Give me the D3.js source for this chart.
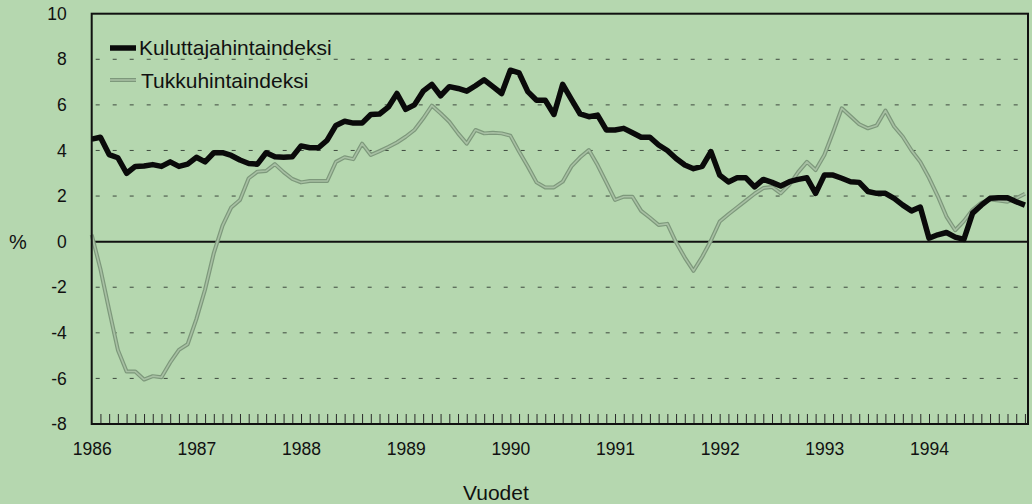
<!DOCTYPE html>
<html>
<head>
<meta charset="utf-8">
<script src="https://cdn.jsdelivr.net/npm/d3@7"></script>
<style>
  html, body { margin: 0; padding: 0; background: #b5d7af; }
  svg { display: block; font-family: "Liberation Sans", Arial, Helvetica, sans-serif; }
  .grid line { stroke: #3f4a3f; stroke-width: 1; stroke-dasharray: 4, 13; }
  .axis path { display: none; }
  .minor line { stroke: #2a2a2a; stroke-width: 1; }
</style>
</head>
<body>
<div id="chart"></div>
<script>
// years shown on the x axis (first month of each year)
var years = [1986, 1987, 1988, 1989, 1990, 1991, 1992, 1993, 1994];

// y axis ticks (%)
var yTicks = [-8, -6, -4, -2, 0, 2, 4, 6, 8, 10];

// monthly change, Jan 1986 - Dec 1994
var kuluttaja = [
    4.5, 4.58, 3.82, 3.68, 3.0, 3.3, 3.32, 3.38, 3.3, 3.5, 3.3, 3.4,
    3.7, 3.5, 3.9, 3.9, 3.78, 3.58, 3.43, 3.4, 3.9, 3.72, 3.7, 3.72,
    4.2, 4.12, 4.12, 4.45, 5.1, 5.28, 5.2, 5.2, 5.58, 5.6, 5.9, 6.5,
    5.8, 6.0, 6.6, 6.9, 6.4, 6.8, 6.72, 6.6, 6.84, 7.1, 6.8, 6.5,
    7.52, 7.4, 6.58, 6.2, 6.2, 5.58, 6.9, 6.24, 5.6, 5.48, 5.55, 4.9,
    4.9, 4.97, 4.78, 4.58, 4.58, 4.24, 4.0, 3.65, 3.36, 3.2, 3.3, 3.95,
    2.92, 2.62, 2.8, 2.8, 2.4, 2.73, 2.6, 2.44, 2.63, 2.73, 2.8, 2.12,
    2.92, 2.92, 2.78, 2.63, 2.6, 2.2, 2.12, 2.12, 1.9, 1.6, 1.35, 1.52,
    0.15, 0.3, 0.4, 0.2, 0.1, 1.25, 1.6, 1.9, 1.93, 1.93, 1.75, 1.6
];

var tukku = [
    0.3, -1.2, -3.0, -4.75, -5.7, -5.7, -6.05, -5.9, -5.95, -5.3, -4.75, -4.5,
    -3.4, -2.1, -0.5, 0.7, 1.5, 1.83, 2.78, 3.07, 3.1, 3.4, 3.05, 2.75,
    2.6, 2.66, 2.66, 2.66, 3.5, 3.7, 3.62, 4.3, 3.8, 3.97, 4.15, 4.35,
    4.6, 4.9, 5.4, 5.97, 5.63, 5.26, 4.75, 4.3, 4.9, 4.75, 4.78, 4.75,
    4.65, 3.95, 3.3, 2.6, 2.38, 2.38, 2.63, 3.3, 3.7, 4.02, 3.36, 2.6,
    1.83, 1.97, 1.97, 1.35, 1.05, 0.73, 0.78, -0.03, -0.7, -1.28, -0.66, 0.05,
    0.88, 1.2, 1.5, 1.8, 2.1, 2.35, 2.4, 2.12, 2.5, 3.05, 3.5, 3.14,
    3.8, 4.8, 5.85, 5.5, 5.15, 4.97, 5.1, 5.75, 5.05, 4.6, 4.0, 3.5,
    2.8, 2.0, 1.1, 0.5, 0.9, 1.4, 1.7, 1.85, 1.8, 1.75, 1.9, 2.1
];

var seriesNames = ['Kuluttajahintaindeksi', 'Tukkuhintaindeksi'];

var width = 1032, height = 504;
var margin = { top: 13.7, right: 4, bottom: 80, left: 91.7 };

var svg = d3.select('#chart')
    .append('svg')
    .attr('width', width)
    .attr('height', height);

var x = d3.scaleLinear()
    .domain([0, 107.35])
    .range([margin.left, width - margin.right]);

var y = d3.scaleLinear()
    .domain([-8, 10])
    .range([height - margin.bottom, margin.top]);

// dashed gridlines
svg.append('g')
    .attr('class', 'grid')
    .selectAll('line')
    .data(yTicks.filter(function(d) { return d !== 0 && d !== 10 && d !== -8; }))
    .enter()
    .append('line')
    .attr('x1', x(0) + 4)
    .attr('x2', x(107.35) - 4)
    .attr('y1', function(d) { return y(d); })
    .attr('y2', function(d) { return y(d); });

// monthly ticks along the bottom, pointing inward
var minorAxis = d3.axisBottom(x)
    .tickValues(d3.range(1, kuluttaja.length))
    .tickSize(-10)
    .tickFormat('');

svg.append('g')
    .attr('class', 'axis minor')
    .attr('transform', 'translate(0,' + y(-8) + ')')
    .call(minorAxis);

// year labels
var xAxis = d3.axisBottom(x)
    .tickValues(years.map(function(d, i) { return i * 12; }))
    .tickSize(0)
    .tickPadding(19)
    .tickFormat(function(d, i) { return years[i]; });

svg.append('g')
    .attr('class', 'axis x-axis')
    .attr('transform', 'translate(0,' + y(-8) + ')')
    .call(xAxis)
    .selectAll('text')
    .attr('font-size', '17.5px')
    .attr('fill', '#111')
    .attr('font-family', 'inherit');

// plain hyphen for negatives, as in the original
var yAxis = d3.axisLeft(y)
    .tickValues(yTicks)
    .tickSize(0)
    .tickPadding(25)
    .tickFormat(function(d) { return String(d); });

svg.append('g')
    .attr('class', 'axis y-axis')
    .attr('transform', 'translate(' + x(0) + ',0)')
    .call(yAxis)
    .selectAll('text')
    .attr('font-size', '17.5px')
    .attr('fill', '#111')
    .attr('font-family', 'inherit');

// zero line
svg.append('line')
    .attr('x1', x(0))
    .attr('x2', x(107.35))
    .attr('y1', y(0))
    .attr('y2', y(0))
    .attr('stroke', '#111')
    .attr('stroke-width', 2);

var line = d3.line()
    .x(function(d, i) { return x(i); })
    .y(function(d) { return y(d); });

// wholesale index: outlined grey-green line
svg.append('path')
    .datum(tukku)
    .attr('d', line)
    .attr('fill', 'none')
    .attr('stroke', '#7d987b')
    .attr('stroke-width', 4)
    .attr('stroke-linejoin', 'round');

svg.append('path')
    .datum(tukku)
    .attr('d', line)
    .attr('fill', 'none')
    .attr('stroke', '#a8c0a4')
    .attr('stroke-width', 1.6)
    .attr('stroke-linejoin', 'round');

// consumer index: thick black line
svg.append('path')
    .datum(kuluttaja)
    .attr('d', line)
    .attr('fill', 'none')
    .attr('stroke', '#0a0a0a')
    .attr('stroke-width', 5.5)
    .attr('stroke-linejoin', 'round');

// frame
svg.append('rect')
    .attr('x', x(0))
    .attr('y', y(10))
    .attr('width', x(107.35) - x(0))
    .attr('height', y(-8) - y(10))
    .attr('fill', 'none')
    .attr('stroke', '#111')
    .attr('stroke-width', 2);

// legend
var legend = svg.append('g');

legend.append('line')
    .attr('x1', 110).attr('x2', 136)
    .attr('y1', 48).attr('y2', 48)
    .attr('stroke', '#0a0a0a')
    .attr('stroke-width', 5.5);

legend.append('line')
    .attr('x1', 110).attr('x2', 136)
    .attr('y1', 80).attr('y2', 80)
    .attr('stroke', '#7d987b')
    .attr('stroke-width', 4);

legend.append('line')
    .attr('x1', 110).attr('x2', 136)
    .attr('y1', 80).attr('y2', 80)
    .attr('stroke', '#a8c0a4')
    .attr('stroke-width', 1.6);

legend.selectAll('text')
    .data(seriesNames)
    .enter()
    .append('text')
    .attr('x', function(d, i) { return i === 0 ? 139 : 141; })
    .attr('y', function(d, i) { return i === 0 ? 55 : 88; })
    .attr('font-size', '21px')
    .attr('fill', '#111')
    .text(function(d) { return d; });

// axis titles
svg.append('text')
    .attr('x', 18)
    .attr('y', 249)
    .attr('text-anchor', 'middle')
    .attr('font-size', '20px')
    .attr('fill', '#111')
    .text('%');

svg.append('text')
    .attr('x', 463)
    .attr('y', 500)
    .attr('font-size', '21px')
    .attr('fill', '#111')
    .text('Vuodet');
</script>
</body>
</html>
